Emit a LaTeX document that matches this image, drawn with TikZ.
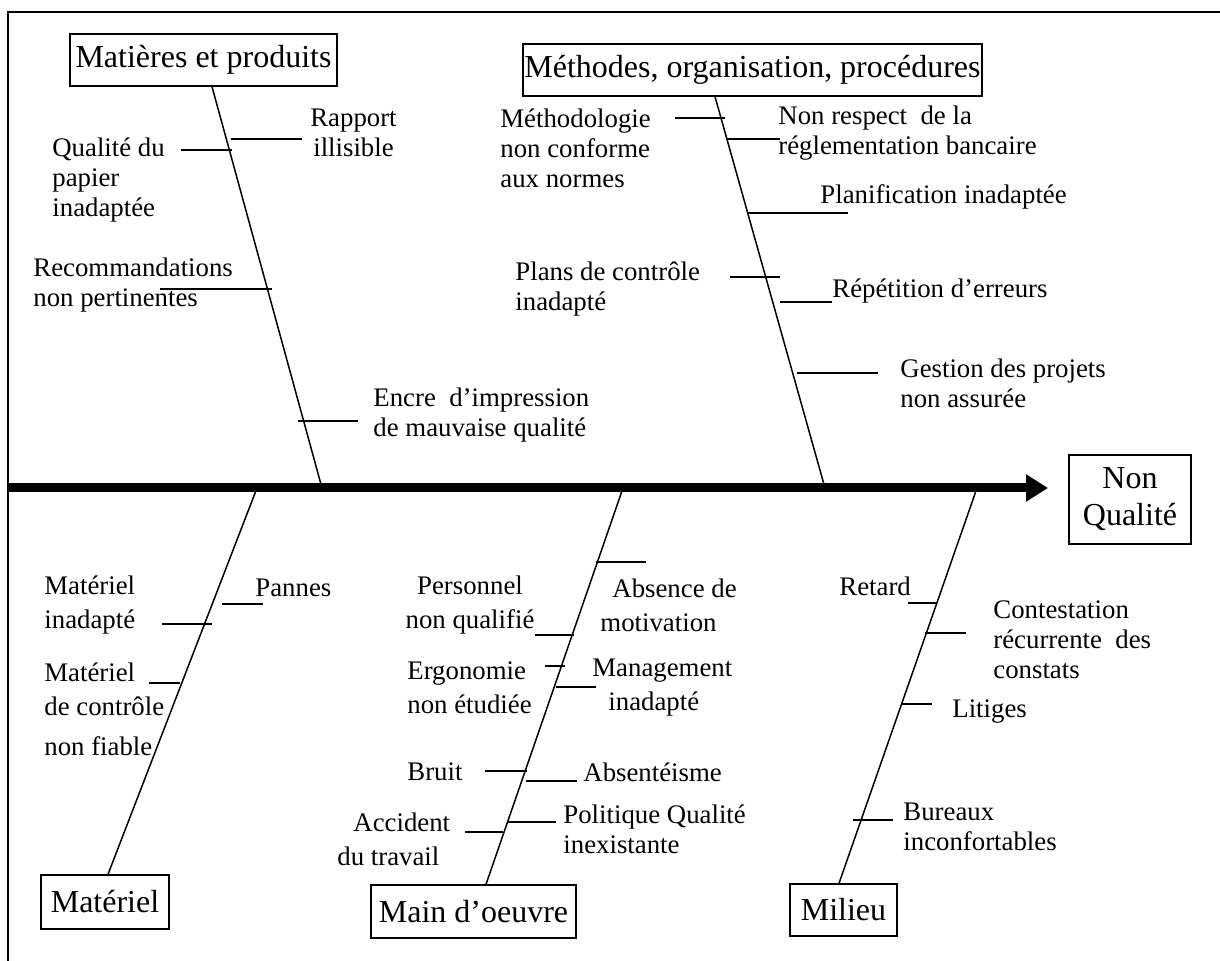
\documentclass[tikz,border=0pt]{standalone}
\usepackage{fontspec}
\setmainfont{Liberation Serif}
\usetikzlibrary{arrows.meta}
\tikzset{
	groupbox/.style={draw, rectangle, line width=0.7pt, inner sep=0pt, align=center, font=\fontsize{16}{18.5}\selectfont},
	cause/.style={inner sep=0pt, anchor=west, align=left, font=\fontsize{13.4}{15}\selectfont},
	causewide/.style={cause, font=\fontsize{13.4}{17}\selectfont},
	bone/.style={line width=0.75pt},
	twig/.style={line width=0.6pt}
}

\begin{document}
\begin{tikzpicture}[x=0.5pt, y=-0.5pt]
	\useasboundingbox (0,0) rectangle (1220,961);
	\draw[line width=0.7pt] (1220,12) -- (8,12) -- (8,961);
	
	% the five families and the effect
	\node[groupbox, minimum width=133.5pt, minimum height=26pt] (mp) at (203.5,60) {Matières et produits};
	\node[groupbox, minimum width=229.5pt, minimum height=26pt] (meth) at (752.5,70) {Méthodes, organisation, procédures};
	\node[groupbox, minimum width=64pt, minimum height=27pt] (mat) at (105,902) {Matériel};
	\node[groupbox, minimum width=102.5pt, minimum height=26.5pt] (mo) at (473.5,911.5) {Main d’oeuvre};
	\node[groupbox, minimum width=53.5pt, minimum height=26pt] (mil) at (843.5,910) {Milieu};
	\node[groupbox, minimum width=61pt, minimum height=44.5pt] (nq) at (1130,499.5) {Non\\Qualité};
	
	\coordinate (s0) at (8,488);
	\coordinate (s1) at (322,488);
	\coordinate (s2) at (825,488);
	\coordinate (s3) at (257,488);
	\coordinate (s4) at (623,488);
	\coordinate (s5) at (977,488);
	\coordinate (s6) at (1048,488);
	
	\draw[line width=4.5pt, -{Triangle[length=11pt, width=13pt]}] (s0) -- (s6);
	
	\draw[bone] ([xshift=4.25pt]mp.south) -- (s1);
	\draw[bone] ([xshift=-18.75pt]meth.south) -- (s2);
	\draw[bone] ([xshift=1.5pt]mat.north) -- (s3);
	\draw[bone] ([xshift=6.25pt]mo.north) -- (s4);
	\draw[bone] ([xshift=-2.25pt]mil.north) -- (s5);
	
	% Matieres et produits
	\node[cause, align=center, anchor=center] (rapport) at (353.5,133) {Rapport\\illisible};
	\node[cause] (qualite) at (52,180) {Qualité du\\papier\\inadaptée};
	\node[cause] (recom) at (33,285) {Recommandations\\non pertinentes};
	\node[cause] (encre) at (373,415) {Encre\ \ d’impression\\de mauvaise qualité};
	\draw[twig] (231,139) -- (302,139);
	\draw[twig] (181,150) -- (232,150);
	\draw[twig] (160,289) -- (272,289);
	\draw[twig] (298,421) -- (358,421);
	
	% Methodes
	\node[cause] (methodo) at (500,148) {Méthodologie\\non conforme\\aux normes};
	\node[cause] (nonresp) at (778,133) {Non respect\ \ de la\\réglementation bancaire};
	\node[cause] (planif) at (820,197) {Planification inadaptée};
	\node[cause] (plans) at (515,289) {Plans de contrôle\\inadapté};
	\node[cause] (repet) at (832,291) {Répétition d’erreurs};
	\node[cause] (gestion) at (900,383) {Gestion des projets\\non assurée};
	\draw[twig] (675,118) -- (725,118);
	\draw[twig] (727,139) -- (780,139);
	\draw[twig] (747,213) -- (848,213);
	\draw[twig] (730,277) -- (780,277);
	\draw[twig] (780,302) -- (832,302);
	\draw[twig] (797,373) -- (878,373);
	
	% Materiel
	\node[causewide] (matinad) at (44,605) {Matériel\\inadapté};
	\node[cause] (pannes) at (255,588) {Pannes};
	\node[causewide] (matctrl) at (44,709) {Matériel\\de contrôle\\[3pt]non fiable};
	\draw[twig] (222,604) -- (263,604);
	\draw[twig] (162,624) -- (212,624);
	\draw[twig] (149,683) -- (180,683);
	
	% Main d'oeuvre
	\node[causewide, align=center, anchor=center] (personnel) at (470,605) {Personnel\\non qualifié};
	\node[causewide] (absence) at (600,605) {\hspace*{6pt}Absence de\\motivation};
	\node[causewide] (ergo) at (407,687.5) {Ergonomie\\non étudiée};
	\node[causewide] (manag) at (592,687.5) {Management\\\hspace*{8pt}inadapté};
	\node[cause] (bruit) at (407,772) {Bruit};
	\node[cause] (absent) at (583,772) {Absentéisme};
	\node[cause] (polit) at (563,829) {Politique Qualité\\inexistante};
	\node[causewide] (accident) at (337,839) {\hspace*{8pt}Accident\\du travail};
	\draw[twig] (596,562) -- (646,562);
	\draw[twig] (535,635) -- (574,635);
	\draw[twig] (545,666) -- (565,666);
	\draw[twig] (556,687) -- (596,687);
	\draw[twig] (485,771) -- (527,771);
	\draw[twig] (526,781) -- (577,781);
	\draw[twig] (508,822) -- (556,822);
	\draw[twig] (465,832) -- (503,832);
	
	% Milieu
	\node[cause] (retard) at (839,586) {Retard};
	\node[cause] (contest) at (993,640) {Contestation\\récurrente\ \ des\\constats};
	\node[cause] (litiges) at (952,712) {Litiges};
	\node[cause] (bureaux) at (903,827) {Bureaux\\inconfortables};
	\draw[twig] (908,603) -- (937,603);
	\draw[twig] (925,633) -- (966,633);
	\draw[twig] (901,704) -- (932,704);
	\draw[twig] (853,820) -- (893,820);
\end{tikzpicture}
\end{document}
